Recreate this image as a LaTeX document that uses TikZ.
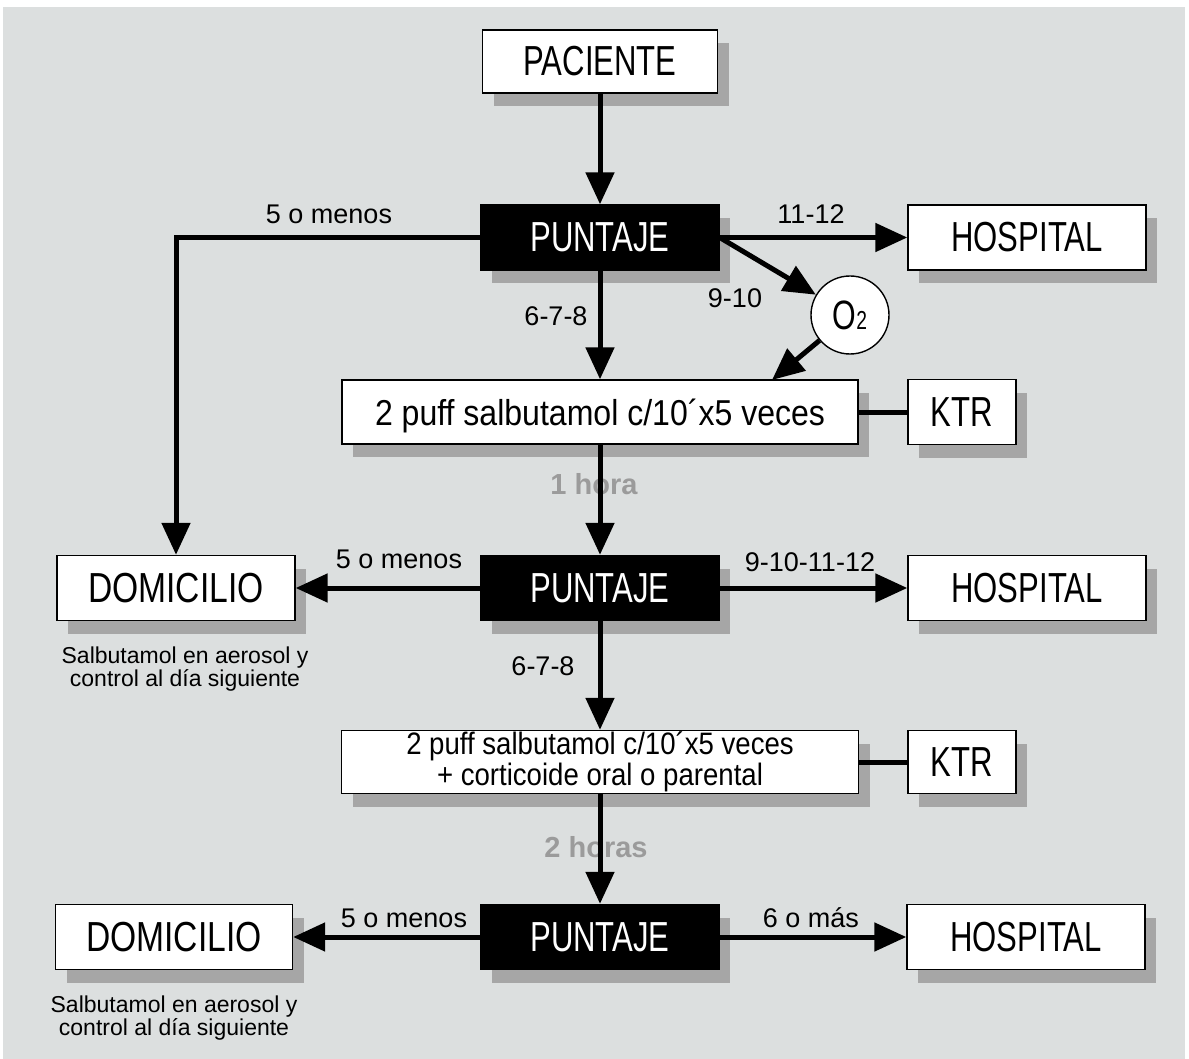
\documentclass[tikz,border=0pt]{standalone}
\usepackage{fontspec}
\setmainfont{Liberation Sans}
\newfontfamily\bigf{Liberation Sans}[FakeStretch=0.74]
\newfontfamily\domf{Liberation Sans}[FakeStretch=0.8]
\newfontfamily\midf{Liberation Sans}[FakeStretch=0.89]
\usetikzlibrary{arrows.meta,shadows}
\definecolor{bgc}{RGB}{220,223,223}
\definecolor{shc}{RGB}{166,166,166}
\definecolor{tgray}{RGB}{155,155,155}
\begin{document}
\begin{tikzpicture}[x=0.5pt,y=-0.5pt,
  shad/.style={drop shadow={shadow xshift=5.5pt,shadow yshift=-6.5pt,fill=shc,opacity=1}},
  wbox/.style={draw=black,line width=0.7pt,fill=white,inner sep=0pt,shad,
    minimum width=119pt,minimum height=32.5pt,font=\bigf\fontsize{21}{24}\selectfont},
  bbox/.style={wbox,fill=black,text=white},
  dbox/.style={wbox,font=\domf\fontsize{21}{24}\selectfont},
  kbox/.style={wbox,minimum width=54pt},
  arr/.style={line width=2.5pt,-{Triangle[length=16pt,width=14pt]}},
  conn/.style={line width=2.5pt},
  lab/.style={inner sep=0pt,font=\fontsize{13.5}{15}\selectfont},
  tlab/.style={inner sep=0pt,text=tgray,font=\bfseries\fontsize{14.5}{16}\selectfont},
  sub/.style={inner sep=0pt,align=center,anchor=north,font=\fontsize{11.5}{10.5}\selectfont}
]
\useasboundingbox (0,0) rectangle (1189,1059);
\fill[white] (0,0) rectangle (1189,1059);
\fill[bgc] (3,7) rectangle (1185,1059);

% nodes
\node[wbox,minimum width=117.5pt,minimum height=31.5pt] (pac) at (600,61.5) {PACIENTE};
\node[bbox] (p1) at (600,237.5) {PUNTAJE};
\node[wbox] (h1) at (1027,237.5) {HOSPITAL};
\node[circle,draw=black,line width=0.7pt,fill=white,minimum size=39pt,inner sep=0pt] (o2) at (850,315)
  {\bigf\fontsize{20.5}{22}\selectfont O\fontsize{13}{14}\selectfont 2};
\node[wbox,minimum width=258pt,minimum height=32pt,font=\midf\fontsize{18}{20}\selectfont,text depth=0pt] (s1) at (600,412) {2 puff salbutamol c/10´x5 veces};
\node[kbox] (k1) at (962,412) {KTR};
\node[bbox] (p2) at (600,588) {PUNTAJE};
\node[dbox] (d1) at (176,588) {DOMICILIO};
\node[wbox] (h2) at (1027,588) {HOSPITAL};
\node[wbox,minimum width=258.5pt,minimum height=31.5pt,align=center,font=\midf\fontsize{15.5}{14}\selectfont] (s2) at (600,762) {2 puff salbutamol c/10´x5 veces\\+ corticoide oral o parental};
\node[kbox,minimum height=31.5pt] (k2) at (962,762) {KTR};
\node[bbox] (p3) at (600,937) {PUNTAJE};
\node[dbox,minimum width=118.5pt] (d2) at (174,937) {DOMICILIO};
\node[wbox] (h3) at (1026,937) {HOSPITAL};

\node[sub] (sub1) at (185,646) {Salbutamol en aerosol y\\control al día siguiente};
\node[sub] (sub2) at (174,995) {Salbutamol en aerosol y\\control al día siguiente};

% time labels (under the connectors)
\node[tlab] (t1) at (594,484) {1 hora};
\node[tlab] (t2) at (596,847) {2 horas};

\coordinate (o2t) at (772,380);

% connectors
\draw[arr] (pac) -- (p1);
\draw[arr] (p1) -- (h1);
\draw[arr] (p1.west) -| (d1.north);
\draw[arr] (p1.east) -- (o2);
\draw[arr] (o2) -- (o2t);
\draw[arr] (p1) -- (s1);
\draw[conn] (s1) -- (k1);
\draw[arr] (s1) -- (p2);
\draw[arr] (p2) -- (d1);
\draw[arr] (p2) -- (h2);
\draw[arr] (p2) -- (s2);
\draw[conn] (s2) -- (k2);
\draw[arr] (s2) -- (p3);
\draw[arr] (p3) -- (d2);
\draw[arr] (p3) -- (h3);

% labels
\node[lab] (l1) at (329,214) {5 o menos};
\node[lab] (l2) at (811,214) {11-12};
\node[lab] (l3) at (556,316) {6-7-8};
\node[lab] (l4) at (735,298) {9-10};
\node[lab] (l5) at (399,559) {5 o menos};
\node[lab] (l6) at (810,562) {9-10-11-12};
\node[lab] (l7) at (543,666) {6-7-8};
\node[lab] (l8) at (404,918) {5 o menos};
\node[lab] (l9) at (811,918) {6 o más};
\end{tikzpicture}
\end{document}
